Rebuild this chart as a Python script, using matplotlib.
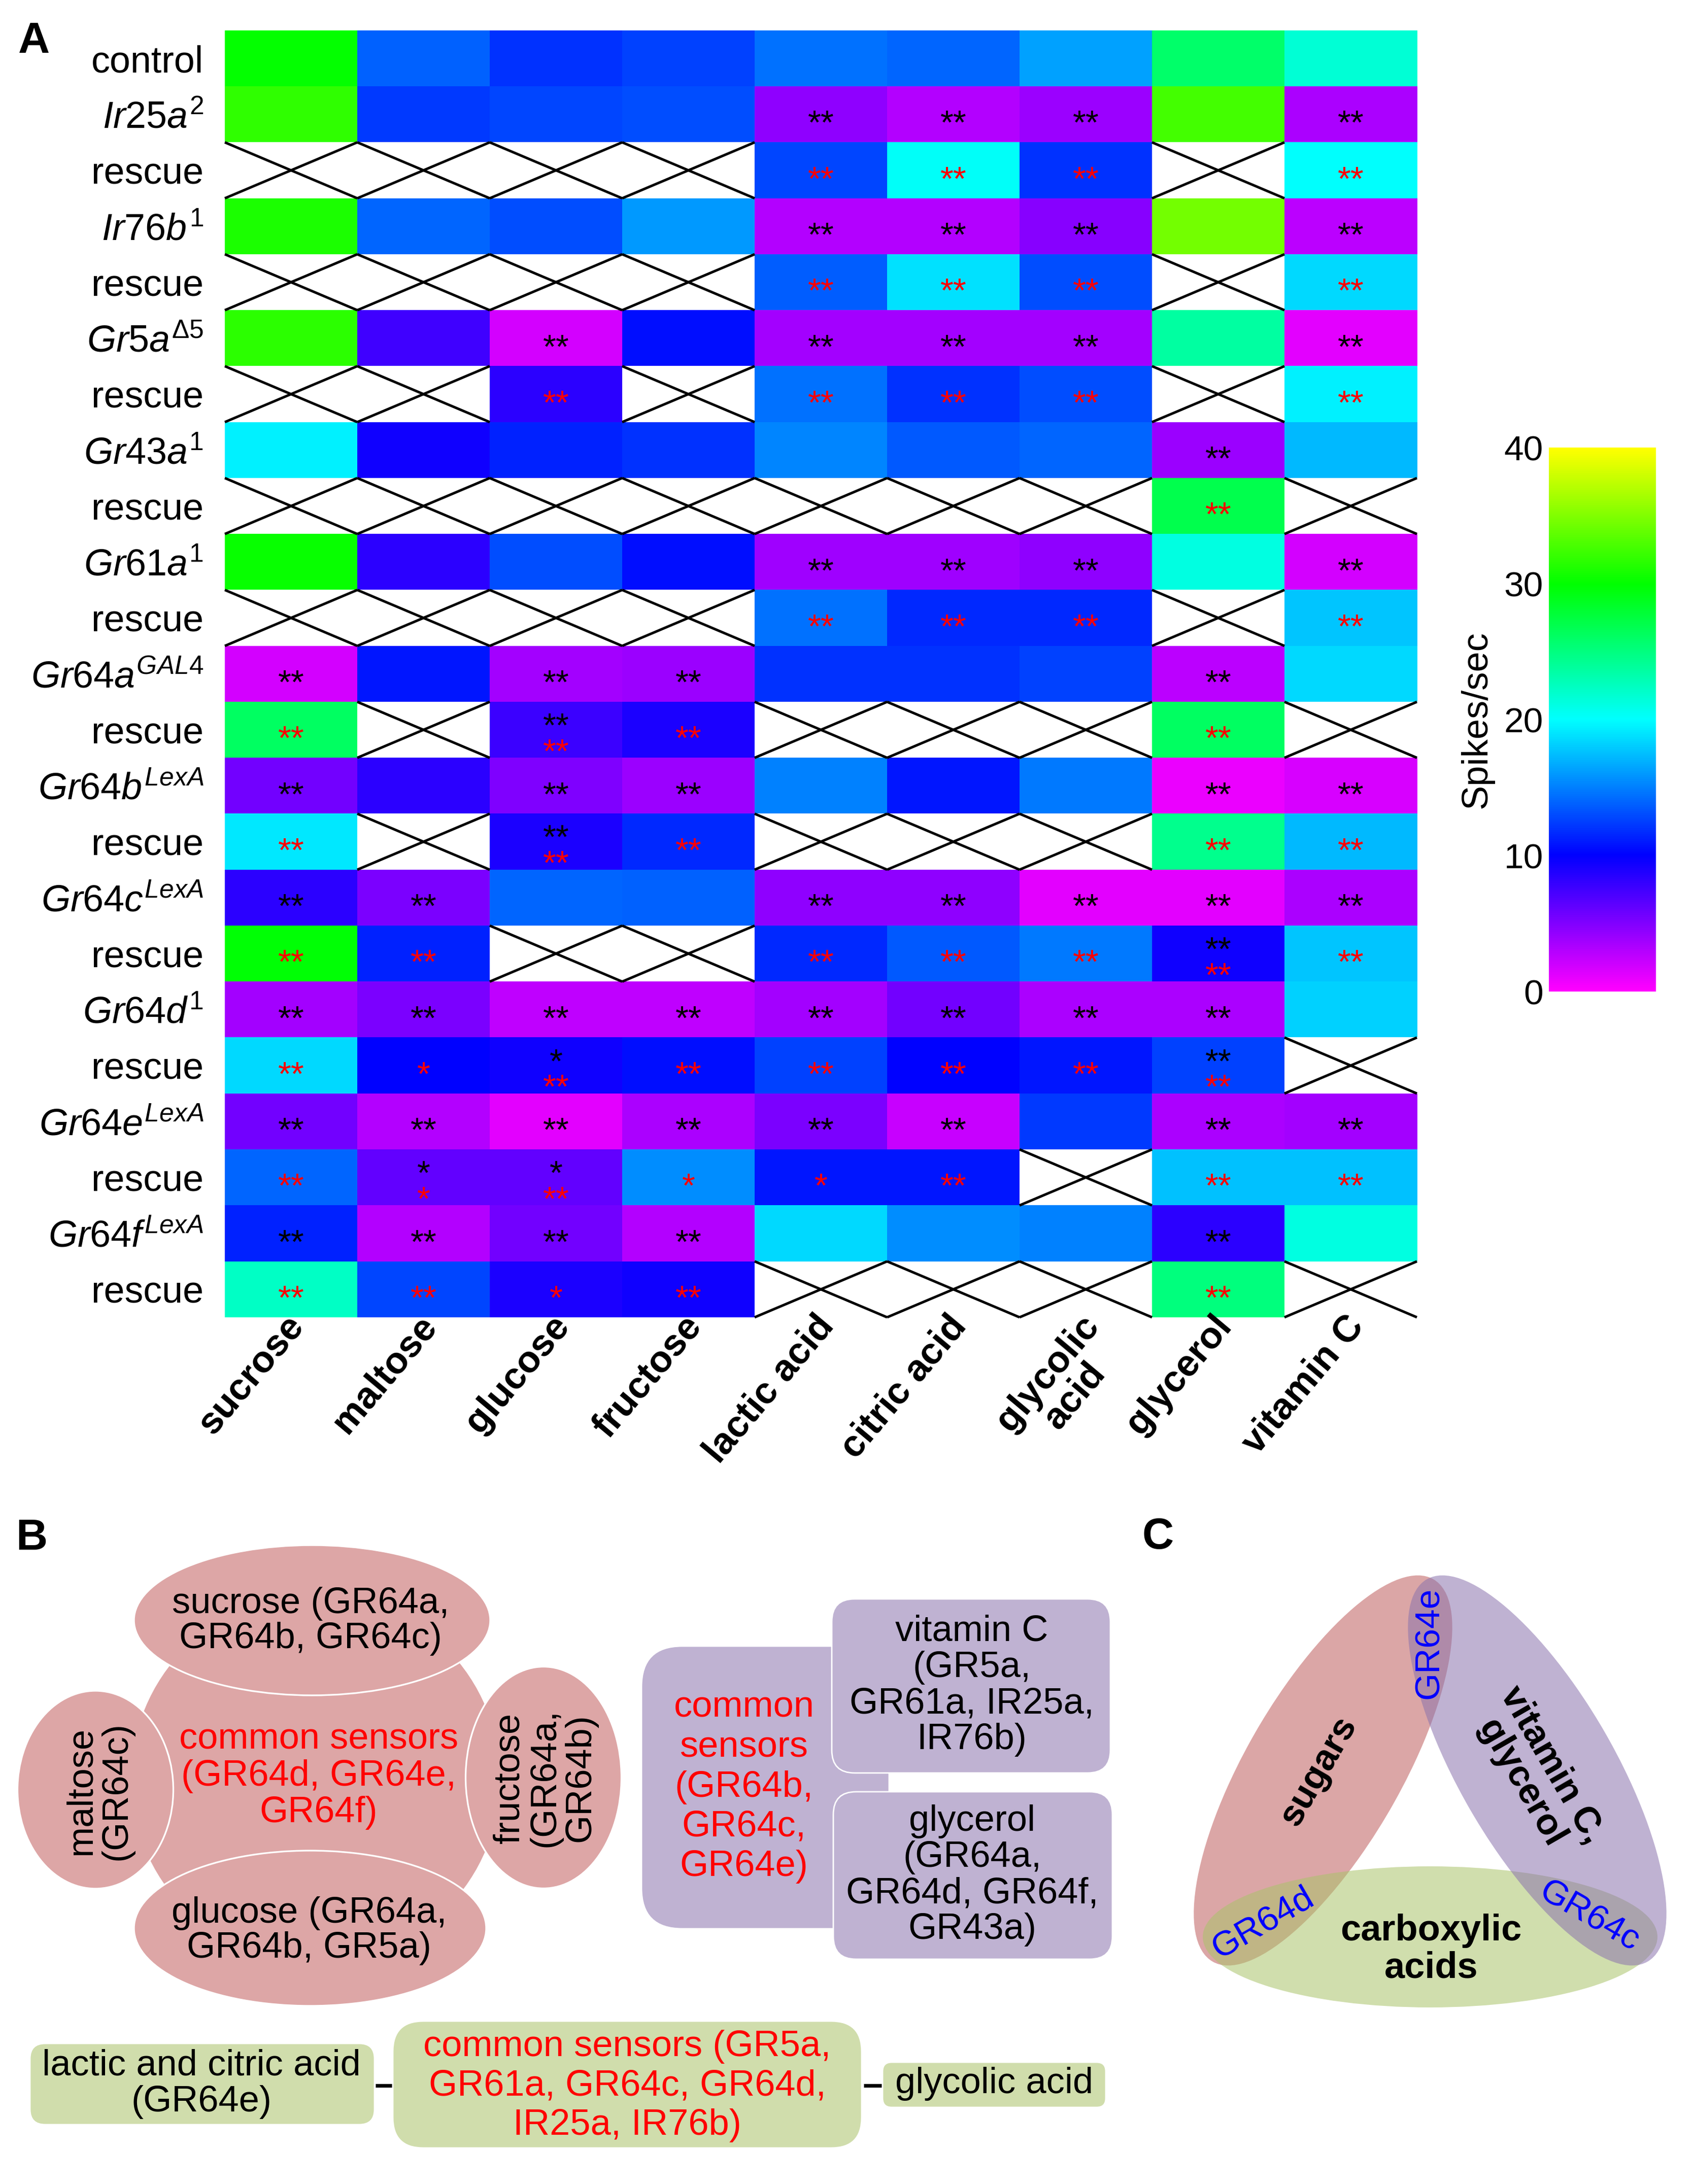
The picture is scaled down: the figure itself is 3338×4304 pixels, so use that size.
import numpy as np
import matplotlib
matplotlib.use("Agg")
import matplotlib.pyplot as plt
from matplotlib.colors import LinearSegmentedColormap
from matplotlib.patches import Ellipse, Circle, FancyBboxPatch

plt.rcParams["font.family"] = ["Liberation Sans", "DejaVu Sans"]
plt.rcParams["mathtext.fontset"] = "custom"
plt.rcParams["mathtext.it"] = "Liberation Sans:italic"
plt.rcParams["mathtext.rm"] = "Liberation Sans"

# ---------------- data (panel A) ----------------
tastants = ["sucrose", "maltose", "glucose", "fructose", "lactic acid",
            "citric acid", "glycolic\nacid", "glycerol", "vitamin C"]

genotypes = ["control", r"$\mathit{Ir25a}^{\mathit{2}}$", "rescue",
             r"$\mathit{Ir76b}^{\mathit{1}}$", "rescue",
             r"$\mathit{Gr5a}^{\mathit{Δ5}}$", "rescue",
             r"$\mathit{Gr43a}^{\mathit{1}}$", "rescue",
             r"$\mathit{Gr61a}^{\mathit{1}}$", "rescue",
             r"$\mathit{Gr64a}^{\mathit{GAL4}}$", "rescue",
             r"$\mathit{Gr64b}^{\mathit{LexA}}$", "rescue",
             r"$\mathit{Gr64c}^{\mathit{LexA}}$", "rescue",
             r"$\mathit{Gr64d}^{\mathit{1}}$", "rescue",
             r"$\mathit{Gr64e}^{\mathit{LexA}}$", "rescue",
             r"$\mathit{Gr64f}^{\mathit{LexA}}$", "rescue"]

N = np.nan
# spikes/sec, NaN = not tested (crossed cell)
spikes = np.array([
    [30.0, 13.8, 11.9, 12.5, 14.4, 14.0, 16.3, 25.8, 21.6],
    [31.8, 12.2, 12.8, 13.1, 4.5, 3.0, 4.0, 32.5, 3.4],
    [N, N, N, N, 12.8, 20.2, 11.9, N, 20.1],
    [31.0, 14.0, 13.1, 16.0, 3.0, 3.1, 4.7, 34.4, 2.8],
    [N, N, N, N, 13.6, 18.8, 13.1, N, 18.5],
    [31.6, 7.5, 1.8, 10.6, 3.7, 3.6, 3.7, 23.7, 1.2],
    [N, N, 8.4, N, 14.4, 11.9, 13.1, N, 19.4],
    [19.4, 9.4, 11.3, 11.9, 15.3, 13.5, 14.0, 4.0, 17.2],
    [N, N, N, N, N, N, N, 26.9, N],
    [30.2, 8.4, 13.1, 10.6, 3.9, 3.9, 4.5, 21.2, 1.8],
    [N, N, N, N, 14.4, 11.6, 11.6, N, 17.8],
    [1.8, 10.9, 3.7, 4.0, 11.9, 11.9, 12.5, 2.8, 18.5],
    [26.2, N, 7.8, 9.0, N, N, N, 26.2, N],
    [5.6, 8.4, 5.0, 4.0, 15.0, 10.9, 14.7, 0.9, 1.7],
    [19.1, N, 9.0, 11.6, N, N, N, 24.4, 17.2],
    [8.4, 5.3, 14.0, 13.8, 4.4, 4.4, 1.2, 1.2, 3.4],
    [29.8, 11.3, N, N, 11.6, 13.5, 14.7, 9.4, 17.8],
    [3.7, 5.3, 2.5, 2.5, 3.7, 5.6, 3.4, 3.4, 18.2],
    [18.5, 10.0, 9.4, 10.6, 12.5, 10.0, 10.9, 12.5, N],
    [5.6, 3.1, 1.1, 3.4, 5.3, 2.2, 12.2, 3.4, 3.7],
    [14.0, 6.2, 6.2, 15.6, 10.9, 10.9, N, 17.5, 17.5],
    [11.3, 3.1, 5.6, 3.1, 18.5, 15.6, 15.0, 8.4, 21.2],
    [22.2, 12.8, 9.0, 9.4, N, N, N, 25.0, N],
])

e9 = [""] * 9
acids_vc = ["", "", "", "", "**", "**", "**", "", "**"]
# significance vs control (black)
sig_black = [
    e9, acids_vc, e9, acids_vc, e9,
    ["", "", "**", "", "**", "**", "**", "", "**"], e9,
    ["", "", "", "", "", "", "", "**", ""], e9,
    acids_vc, e9,
    ["**", "", "**", "**", "", "", "", "**", ""],
    ["", "", "**", "", "", "", "", "", ""],
    ["**", "", "**", "**", "", "", "", "**", "**"],
    ["", "", "**", "", "", "", "", "", ""],
    ["**", "**", "", "", "**", "**", "**", "**", "**"],
    ["", "", "", "", "", "", "", "**", ""],
    ["**", "**", "**", "**", "**", "**", "**", "**", ""],
    ["", "", "*", "", "", "", "", "**", ""],
    ["**", "**", "**", "**", "**", "**", "", "**", "**"],
    ["", "*", "*", "", "", "", "", "", ""],
    ["**", "**", "**", "**", "", "", "", "**", ""],
    e9,
]
# significance vs mutant (red)
sig_red = [
    e9, e9, acids_vc, e9, acids_vc, e9,
    ["", "", "**", "", "**", "**", "**", "", "**"], e9,
    ["", "", "", "", "", "", "", "**", ""], e9,
    acids_vc, e9,
    ["**", "", "**", "**", "", "", "", "**", ""], e9,
    ["**", "", "**", "**", "", "", "", "**", "**"], e9,
    ["**", "**", "", "", "**", "**", "**", "**", "**"], e9,
    ["**", "*", "**", "**", "**", "**", "**", "**", ""], e9,
    ["**", "*", "**", "*", "*", "**", "", "**", "**"], e9,
    ["**", "**", "*", "**", "", "", "", "**", ""],
]

cbar_ticks = [0, 10, 20, 30, 40]

# ---------------- figure ----------------
W, H = 3338, 4304
DPI = 200
fig = plt.figure(figsize=(W / DPI, H / DPI), dpi=DPI)


def frac_box(x0, y0, x1, y1):
    """pixel box (top-left origin) -> figure fraction rect"""
    return [x0 / W, 1 - y1 / H, (x1 - x0) / W, (y1 - y0) / H]


# overlay axes in pixel coordinates for panels B, C and letters
ov = fig.add_axes([0, 0, 1, 1])
ov.set_xlim(0, W)
ov.set_ylim(H, 0)
ov.axis("off")

# ---- panel A heatmap ----
cmap = LinearSegmentedColormap.from_list(
    "spk", ["#FF00FF", "#0000FF", "#00FFFF", "#00FF00", "#FFFF00"])
ax = fig.add_axes(frac_box(443, 60, 2792, 2596))
im = ax.imshow(spikes, cmap=cmap, vmin=0, vmax=40, aspect="auto",
               interpolation="nearest")
ax.set_xlim(-0.5, 8.5)
ax.set_ylim(22.5, -0.5)
for s in ax.spines.values():
    s.set_visible(False)

nrow, ncol = spikes.shape
for i in range(nrow):
    for j in range(ncol):
        if np.isnan(spikes[i, j]):
            ax.plot([j - .5, j + .5], [i - .5, i + .5], color="black", lw=1.8,
                    clip_on=False, solid_capstyle="butt")
            ax.plot([j - .5, j + .5], [i + .5, i - .5], color="black", lw=1.8,
                    clip_on=False, solid_capstyle="butt")

# asterisks (baseline offset so the glyph sits in the middle)
STAR_FS = 24
for i in range(nrow):
    for j in range(ncol):
        b, r = sig_black[i][j], sig_red[i][j]
        if b and r:
            ax.text(j, i + 0.12, b, color="black", ha="center", va="baseline",
                    fontsize=STAR_FS)
            ax.text(j, i + 0.58, r, color="red", ha="center", va="baseline",
                    fontsize=STAR_FS)
        elif b or r:
            ax.text(j, i + 0.35, b or r, color="black" if b else "red",
                    ha="center", va="baseline", fontsize=STAR_FS)

ax.set_yticks(range(nrow))
ax.set_yticklabels(genotypes, fontsize=26.5)
ax.set_xticks([])
ax.tick_params(axis="y", length=0, pad=15)
for j, name in enumerate(tastants):
    ax.text(j - 0.05, 22.35, name, fontsize=26.5, fontweight="bold",
            rotation=50, ha="right", va="top", rotation_mode="anchor",
            multialignment="center", linespacing=1.0, clip_on=False)

# colorbar
cax = fig.add_axes(frac_box(3052, 882, 3263, 1954))
cb = fig.colorbar(im, cax=cax, ticks=cbar_ticks)
cb.outline.set_visible(False)
cax.yaxis.set_ticks_position("left")
cax.tick_params(length=0, pad=4, labelsize=25)
ov.text(2910, 1418, "Spikes/sec", rotation=90, ha="center", va="center",
        fontsize=26)

# panel letters
ov.text(36, 104, "A", fontsize=31, fontweight="bold", va="baseline")
ov.text(31, 3054, "B", fontsize=31, fontweight="bold", va="baseline")
ov.text(2250, 3052, "C", fontsize=31, fontweight="bold", va="baseline")

# ---- panel B ----
FS = 26
pink = "#DDA6A6"
ov.add_patch(Circle((622, 3505), 365, fc=pink, ec="white", lw=1))
for (cx, cy, w, h) in [(615, 3193, 702, 296), (611, 3800, 694, 306),
                       (188, 3527, 307, 390), (1071, 3503, 307, 437)]:
    ov.add_patch(Ellipse((cx, cy), w, h, fc=pink, ec="white", lw=1.2))
ov.text(612, 3195, "sucrose (GR64a,\nGR64b, GR64c)", ha="center", va="center",
        fontsize=FS, linespacing=1.05)
ov.text(628, 3500, "common sensors\n(GR64d, GR64e,\nGR64f)", ha="center",
        va="center", fontsize=FS, color="red", linespacing=1.1)
ov.text(609, 3805, "glucose (GR64a,\nGR64b, GR5a)", ha="center", va="center",
        fontsize=FS, linespacing=1.05)
ov.text(195, 3529, "maltose\n(GR64c)", ha="center", va="center", rotation=90,
        fontsize=FS, linespacing=1.05)
ov.text(1074, 3504, "fructose\n(GR64a,\nGR64b)", ha="center", va="center",
        rotation=90, fontsize=FS, linespacing=1.05)

purple = "#BFB2D2"
ov.add_patch(FancyBboxPatch((1264, 3244), 488, 557,
                            boxstyle="round,pad=0,rounding_size=80",
                            fc=purple, ec="white", lw=1))
ov.add_patch(FancyBboxPatch((1639, 3151), 549, 343,
                            boxstyle="round,pad=0,rounding_size=45",
                            fc=purple, ec="white", lw=1))
ov.add_patch(FancyBboxPatch((1642, 3531), 550, 330,
                            boxstyle="round,pad=0,rounding_size=45",
                            fc=purple, ec="white", lw=1))
ov.text(1466, 3522, "common\nsensors\n(GR64b,\nGR64c,\nGR64e)", ha="center",
        va="center", fontsize=FS, color="red", linespacing=1.22)
ov.text(1915, 3322, "vitamin C\n(GR5a,\nGR61a, IR25a,\nIR76b)", ha="center",
        va="center", fontsize=FS, linespacing=1.08)
ov.text(1916, 3696, "glycerol\n(GR64a,\nGR64d, GR64f,\nGR43a)", ha="center",
        va="center", fontsize=FS, linespacing=1.08)

green = "#D0DDAC"
ov.add_patch(FancyBboxPatch((59, 4027), 679, 160,
                            boxstyle="round,pad=0,rounding_size=30",
                            fc=green, ec="white", lw=1))
ov.add_patch(FancyBboxPatch((774, 3983), 924, 250,
                            boxstyle="round,pad=0,rounding_size=60",
                            fc=green, ec="white", lw=1))
ov.add_patch(FancyBboxPatch((1739, 4064), 440, 89,
                            boxstyle="round,pad=0,rounding_size=18",
                            fc=green, ec="white", lw=1))
ov.plot([740, 772], [4110, 4110], color="black", lw=2.6, solid_capstyle="butt")
ov.plot([1702, 1737], [4110, 4110], color="black", lw=2.6, solid_capstyle="butt")
ov.text(397, 4107, "lactic and citric acid\n(GR64e)", ha="center", va="center",
        fontsize=FS, linespacing=1.08)
ov.text(1236, 4111, "common sensors (GR5a,\nGR61a, GR64c, GR64d,\nIR25a, IR76b)",
        ha="center", va="center", fontsize=FS, color="red", linespacing=1.2)
ov.text(1959, 4107, "glycolic acid", ha="center", va="center", fontsize=FS)

# ---- panel C ----
a = 0.55
ov.add_patch(Ellipse((2607, 3489), 870, 306, angle=-60,
                     fc=(191/255, 93/255, 93/255), alpha=a, ec="none"))
ov.add_patch(Ellipse((2818, 3817), 896, 278, angle=0,
                     fc=(170/255, 195/255, 106/255), alpha=a, ec="none"))
ov.add_patch(Ellipse((3029, 3489), 870, 306, angle=60,
                     fc=(139/255, 115/255, 173/255), alpha=a, ec="none"))
ov.text(2598, 3490, "sugars", rotation=60, ha="center", va="center",
        rotation_mode="anchor", fontsize=26, fontweight="bold")
ov.text(3028, 3496, "vitamin C,\nglycerol", rotation=-60, ha="center",
        va="center", rotation_mode="anchor", fontsize=26, fontweight="bold",
        linespacing=1.05)
ov.text(2820, 3842, "carboxylic\nacids", ha="center", va="center",
        fontsize=26, fontweight="bold", linespacing=1.1)
ov.text(2816, 3238, "GR64e", rotation=90, ha="center", va="center",
        rotation_mode="anchor", fontsize=25, color="blue")
ov.text(2489, 3790, "GR64d", rotation=30, ha="center", va="center",
        rotation_mode="anchor", fontsize=25, color="blue")
ov.text(3131, 3777, "GR64c", rotation=-30, ha="center", va="center",
        rotation_mode="anchor", fontsize=25, color="blue")

fig.savefig("out.png", dpi=DPI)
